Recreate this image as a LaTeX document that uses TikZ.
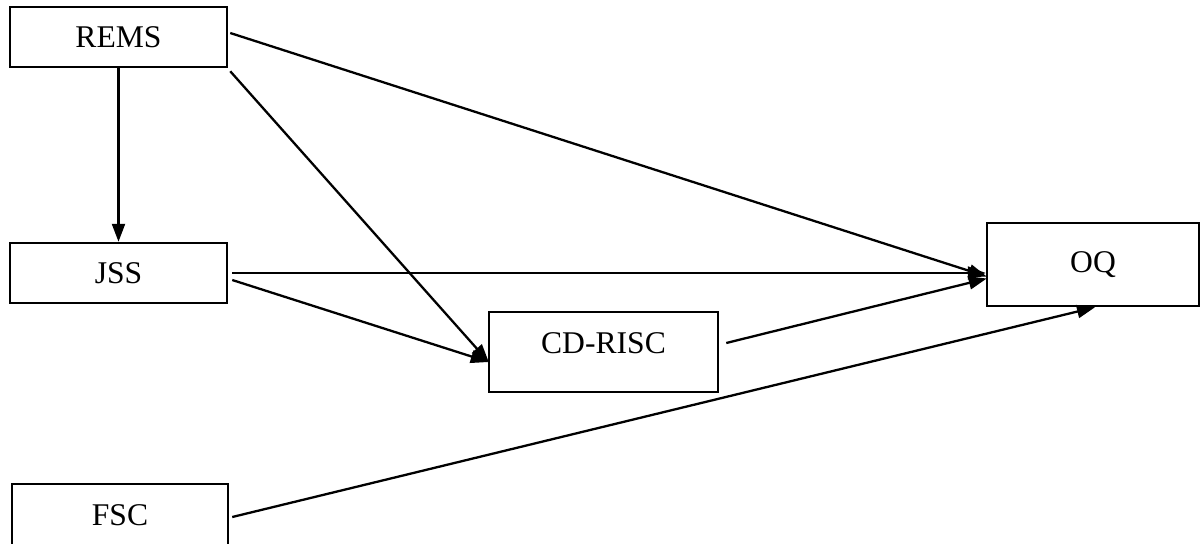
\documentclass[tikz,border=0pt]{standalone}
\usepackage{fontspec}
\setmainfont{Liberation Serif}
\usepackage{tikz}
\usetikzlibrary{arrows.meta}

\begin{document}
\begin{tikzpicture}[x=0.5pt,y=-0.5pt,>={Triangle[length=9pt,width=6.5pt]},
  every node/.style={font=\fontsize{15.8}{18}\selectfont},
  var/.style={draw,line width=1.25pt,rectangle,inner sep=0pt},
  link/.style={->,line width=1.15pt}]
\clip (0,0) rectangle (1200,543);
\node[var,minimum width=108.5pt,minimum height=30pt] (REMS) at (118.5,37) {REMS};
\node[var,minimum width=108.5pt,minimum height=30pt] (JSS) at (118.5,273) {JSS};
\node[var,minimum width=114.5pt,inner xsep=0pt,text height=20.6pt,text depth=19.4pt] (CDRISC) at (603.5,352) {CD-RISC};
\node[var,minimum width=106pt,minimum height=41.5pt] (OQ) at (1093,264.5) {OQ};
\node[var,minimum width=108pt,minimum height=31pt] (FSC) at (120,515) {FSC};
\coordinate (oqin) at ([shift={(1,12)}]OQ.west);
\coordinate (cdin) at ([shift={(1,10)}]CDRISC.west);
\draw[link] (REMS.south) -- (JSS.north);
\draw[link] ([shift={(2,-4)}]REMS.east) -- (oqin);
\draw[link] ([shift={(2,3)}]REMS.south east) -- (cdin);
\draw[link,shorten <=2pt] (JSS.east) -- (JSS.east -| OQ.west);
\draw[link] ([shift={(4,7)}]JSS.east) -- (cdin);
\draw[link] ([shift={(7,-9)}]CDRISC.east) -- ([shift={(1,14)}]OQ.west);
\draw[link] ([shift={(3,2)}]FSC.east) -- ([xshift=1pt]OQ.south);
\end{tikzpicture}
\end{document}
